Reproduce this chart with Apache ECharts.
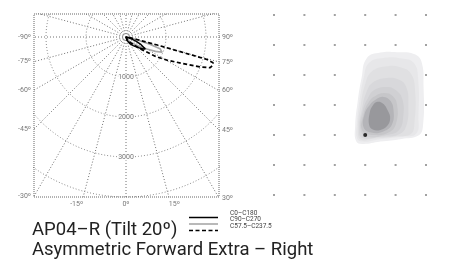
<!DOCTYPE html>
<html>
<head>
<meta charset="utf-8">
<script src="https://cdn.jsdelivr.net/npm/echarts@6/dist/echarts.min.js"></script>
<style>
html, body { margin: 0; padding: 0; background: #fff; }
#chart { width: 455px; height: 262px; }
</style>
</head>
<body>
<div id="chart"></div>
<script>
// polar curves: angle from nadir in degrees (+ = right), intensity in cd
var c0Angles  = [-180, -150, -120, -90, -60, -30, 0, 10, 20, 30, 40, 45, 50, 55, 58, 61, 64, 67, 70, 75, 80, 90, 120, 150, 180];
var c0Values  = [5, 5, 8, 10, 15, 25, 30, 45, 100, 190, 280, 340, 420, 520, 570, 520, 400, 280, 170, 70, 30, 10, 5, 5, 5];
var c90Angles = [-180, -120, -90, -60, -30, 0, 20, 40, 50, 55, 60, 64, 67, 69, 71, 73, 75, 80, 90, 120, 180];
var c90Values = [5, 5, 10, 15, 20, 30, 60, 150, 280, 400, 600, 820, 980, 1000, 900, 620, 300, 80, 20, 5, 5];
var c57Angles = [-180, -120, -90, -60, -30, 0, 20, 40, 50, 57, 60.5, 65, 68, 70, 72, 73.5, 74.5, 75.5, 77, 80, 90, 120, 180];
var c57Values = [5, 5, 10, 15, 25, 40, 90, 195, 450, 910, 1170, 1580, 2000, 2240, 2280, 2270, 2100, 900, 300, 100, 30, 5, 5];

var ringValues = [1000, 2000, 3000, 4000];
var ringLabels = ['1000', '2000', '3000'];
var sideAngles = [90, 75, 60, 45, 30];
var bottomAngles = [-15, 0, 15];

// isolux plot: grid of marker dots and nested contour shapes (grid units)
var gridCols = [-3, -2, -1, 0, 1, 2];
var gridRows = [-2, -1, 0, 1, 2, 3, 4];
var luminairePos = [0, 0];
var contourShapes = [
    [[0.05, 2.56], [0.5, 2.75], [1.05, 2.76], [1.6, 2.7], [1.85, 2.45], [1.92, 1.6], [1.9, 0.3], [1.75, -0.02], [1.2, -0.13], [0.5, -0.22], [-0.1, -0.3], [-0.3, -0.2], [-0.33, 0.3], [-0.25, 1.1], [-0.12, 1.9]],
    [[0.12, 2.4], [0.6, 2.57], [1.2, 2.55], [1.6, 2.4], [1.74, 1.9], [1.75, 0.6], [1.68, 0.05], [1.2, -0.06], [0.5, -0.14], [-0.1, -0.22], [-0.27, -0.1], [-0.27, 0.4], [-0.18, 1.2], [-0.05, 1.9]],
    [[0.2, 2.1], [0.65, 2.28], [1.15, 2.26], [1.5, 2.05], [1.64, 1.5], [1.62, 0.4], [1.5, 0.03], [1.0, -0.05], [0.3, -0.12], [-0.15, -0.15], [-0.24, 0.2], [-0.15, 1.0], [0.0, 1.7]],
    [[0.25, 1.75], [0.7, 1.9], [1.1, 1.85], [1.35, 1.6], [1.42, 1.0], [1.35, 0.3], [1.1, 0.02], [0.5, -0.06], [-0.1, -0.1], [-0.2, 0.2], [-0.1, 0.9], [0.05, 1.45]],
    [[0.3, 1.5], [0.7, 1.6], [1.0, 1.5], [1.22, 1.2], [1.25, 0.6], [1.1, 0.15], [0.7, 0.0], [0.1, -0.06], [-0.15, 0.15], [-0.08, 0.8], [0.1, 1.25]],
    [[0.33, 1.3], [0.65, 1.4], [0.9, 1.3], [1.05, 1.0], [1.02, 0.4], [0.8, 0.1], [0.3, 0.0], [-0.1, 0.15], [-0.05, 0.7], [0.12, 1.1]],
    [[0.35, 1.18], [0.6, 1.27], [0.82, 1.15], [0.93, 0.85], [0.88, 0.35], [0.6, 0.12], [0.2, 0.08], [-0.05, 0.25], [-0.02, 0.7], [0.15, 1.0]],
    [[0.38, 1.1], [0.58, 1.05], [0.75, 0.8], [0.82, 0.55], [0.72, 0.3], [0.5, 0.17], [0.25, 0.18], [0.13, 0.33], [0.15, 0.75], [0.25, 0.98]]
];
var contourColors = ['#eeeef0', '#e7e7e9', '#e0e0e2', '#d8d8db', '#d0d0d3', '#c6c6c9', '#b4b4b8', '#98989c'];

var chart = echarts.init(document.getElementById('chart'));

// polar area in data units
var xMin = -2300, xMax = 2325, yMin = -4000, yMax = 575;
var rad = Math.PI / 180;

function toXY(a, v) {
    return [v * Math.sin(a * rad), -v * Math.cos(a * rad)];
}
function curve(angles, values) {
    return angles.map(function (a, i) { return toXY(a, values[i]); });
}

var dotted = { type: [1, 2], color: '#707070', width: 1 };
var series = [];

// radial grid lines every 15 deg
for (var a = 0; a < 360; a += 15) {
    series.push({
        type: 'line', xAxisIndex: 0, yAxisIndex: 0, silent: true, symbol: 'none',
        data: [[0, 0], toXY(a, 6000)], lineStyle: dotted, z: 1
    });
}
// rings
ringValues.forEach(function (r) {
    var pts = [];
    for (var t = 0; t <= 360; t += 2) pts.push(toXY(t, r));
    series.push({
        type: 'line', xAxisIndex: 0, yAxisIndex: 0, silent: true, symbol: 'none',
        data: pts, lineStyle: { type: [1, 2], color: '#8c8c8c', width: 1 }, z: 1
    });
});
// frame
series.push({
    type: 'line', xAxisIndex: 0, yAxisIndex: 0, silent: true, symbol: 'none', clip: false,
    data: [[xMin, yMin], [xMax, yMin], [xMax, yMax], [xMin, yMax], [xMin, yMin]],
    lineStyle: { type: [1, 1], color: '#666', width: 1 }, z: 2
});

// photometric curves
series.push({
    type: 'line', xAxisIndex: 0, yAxisIndex: 0, symbol: 'none',
    data: curve(c90Angles, c90Values),
    lineStyle: { color: '#a8a8a8', width: 1.6 }, z: 5
});
series.push({
    type: 'line', xAxisIndex: 0, yAxisIndex: 0, symbol: 'none',
    data: curve(c0Angles, c0Values),
    lineStyle: { color: '#000', width: 1.5 }, z: 6
});
series.push({
    type: 'line', xAxisIndex: 0, yAxisIndex: 0, symbol: 'none',
    data: curve(c57Angles, c57Values),
    lineStyle: { color: '#000', width: 1.7, type: [4, 2.5] }, z: 7
});

var lblStyle = { fontFamily: 'Roboto', fontSize: 7, color: '#555' };

// ring labels
series.push({
    type: 'scatter', xAxisIndex: 0, yAxisIndex: 0, symbolSize: 0, silent: true, z: 4,
    data: ringLabels.map(function (t, i) { return { value: [0, -ringValues[i]], name: t }; }),
    label: Object.assign({ show: true, position: 'inside', formatter: '{b}', backgroundColor: '#fff', padding: [0, 1] }, lblStyle)
});
// side labels
series.push({
    type: 'scatter', xAxisIndex: 0, yAxisIndex: 0, symbolSize: 0, silent: true, clip: false,
    data: sideAngles.map(function (a) {
        return { value: [xMin, xMin * Math.cos(a * rad) / Math.sin(a * rad)], name: '-' + a + 'º' };
    }),
    label: Object.assign({ show: true, position: 'left', distance: 3, formatter: '{b}' }, lblStyle)
});
series.push({
    type: 'scatter', xAxisIndex: 0, yAxisIndex: 0, symbolSize: 0, silent: true, clip: false,
    data: sideAngles.map(function (a) {
        return { value: [xMax, -xMax * Math.cos(a * rad) / Math.sin(a * rad)], name: a + 'º' };
    }),
    label: Object.assign({ show: true, position: 'right', distance: 3, formatter: '{b}' }, lblStyle)
});
series.push({
    type: 'scatter', xAxisIndex: 0, yAxisIndex: 0, symbolSize: 0, silent: true, clip: false,
    data: bottomAngles.map(function (a) {
        return {
            value: [-yMin * Math.tan(a * rad), yMin],
            name: (a < 0 ? '-' + (-a) : a) + 'º',
            label: { align: a < 0 ? 'right' : (a > 0 ? 'left' : 'center') }
        };
    }),
    label: Object.assign({ show: true, position: 'bottom', distance: 4, formatter: '{b}' }, lblStyle)
});

// isolux: marker dots
var dots = [];
gridCols.forEach(function (c) { gridRows.forEach(function (r) { dots.push([c, r]); }); });
series.push({
    type: 'scatter', xAxisIndex: 1, yAxisIndex: 1, symbol: 'rect', symbolSize: 2,
    itemStyle: { color: '#8a8a8a' }, data: dots, silent: true, z: 1
});
series.push({
    type: 'custom', xAxisIndex: 1, yAxisIndex: 1, silent: true, z: 2,
    data: contourShapes.map(function (s, i) { return [i]; }),
    renderItem: function (params, api) {
        var pts = contourShapes[params.dataIndex].map(function (p) { return api.coord(p); });
        return {
            type: 'polygon',
            shape: { points: pts, smooth: 0.45 },
            style: { fill: contourColors[params.dataIndex] }
        };
    }
});
series.push({
    type: 'scatter', xAxisIndex: 1, yAxisIndex: 1, symbolSize: 4,
    itemStyle: { color: '#000' }, data: [luminairePos], silent: true, z: 5
});

var hiddenAxis = { show: false, splitLine: { show: false } };

chart.setOption({
    animation: false,
    grid: [
        { left: 34, top: 14, width: 185, height: 183 },
        { left: 274, top: 15, width: 152, height: 180 }
    ],
    xAxis: [
        Object.assign({ type: 'value', gridIndex: 0, min: xMin, max: xMax }, hiddenAxis),
        Object.assign({ type: 'value', gridIndex: 1, min: -3, max: 2 }, hiddenAxis)
    ],
    yAxis: [
        Object.assign({ type: 'value', gridIndex: 0, min: yMin, max: yMax }, hiddenAxis),
        Object.assign({ type: 'value', gridIndex: 1, min: -2, max: 4 }, hiddenAxis)
    ],
    series: series,
    graphic: [
        { type: 'text', left: 32, top: 221, style: { text: 'AP04–R (Tilt 20º)', font: '18.5px Roboto', fill: '#222' } },
        { type: 'text', left: 32, top: 241, style: { text: 'Asymmetric Forward Extra – Right', font: '18.5px Roboto', fill: '#222' } },
        { type: 'line', shape: { x1: 189, y1: 217.5, x2: 218, y2: 217.5 }, style: { stroke: '#000', lineWidth: 1.5 } },
        { type: 'line', shape: { x1: 189, y1: 224, x2: 218, y2: 224 }, style: { stroke: '#a8a8a8', lineWidth: 1.6 } },
        { type: 'line', shape: { x1: 189, y1: 230.5, x2: 218, y2: 230.5 }, style: { stroke: '#000', lineWidth: 1.7, lineDash: [4, 2.5] } },
        { type: 'text', left: 230, top: 209.5, style: { text: 'C0–C180', font: '6.5px Roboto', fill: '#444' } },
        { type: 'text', left: 230, top: 216, style: { text: 'C90–C270', font: '6.5px Roboto', fill: '#444' } },
        { type: 'text', left: 230, top: 222.5, style: { text: 'C57.5–C237.5', font: '6.5px Roboto', fill: '#444' } }
    ]
});
</script>
</body>
</html>
